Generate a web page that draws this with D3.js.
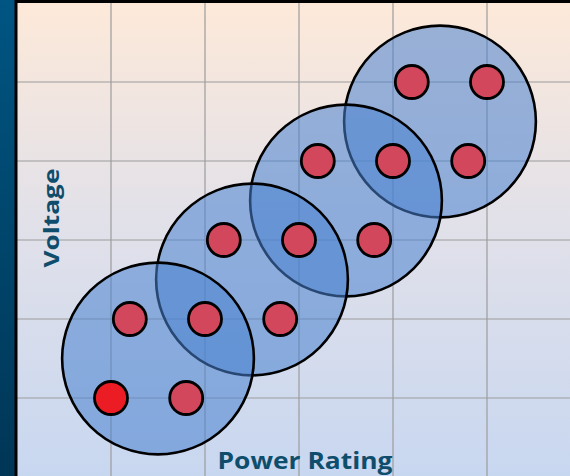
<!DOCTYPE html>
<html>
<head>
<meta charset="utf-8">
<script src="https://cdn.jsdelivr.net/npm/d3@7"></script>
<style>
  html, body { margin: 0; padding: 0; background: #fff; }
  svg { display: block; }
</style>
</head>
<body>
<script>
// groups (big circles), centres in grid units
var groupX = [1.5, 2.5, 3.5, 4.5],
    groupY = [1.5, 2.5, 3.5, 4.5],
    groupR = 1.02;

// small dots
var dotX = [1.0, 1.8, 1.2, 2.0, 2.8, 2.2, 3.0, 3.8, 3.2, 4.0, 4.8, 4.2, 5.0],
    dotY = [1,   1,   2,   2,   2,   3,   3,   3,   4,   4,   4,   5,   5],
    dotHot = [true, false, false, false, false, false, false, false, false, false, false, false, false];

var gridTicks = [1, 2, 3, 4, 5];
var xLabel = 'Power Rating',
    yLabel = 'Voltage';

function draw() {
    var width = 570,
        height = 476,
        padLeft = 17,
        padTop = 3;

    var svg = d3.select('body').append('svg')
        .attr('width', width)
        .attr('height', height);

    var defs = svg.append('defs');
    var bg = defs.append('linearGradient').attr('id', 'bg')
        .attr('x1', 0).attr('y1', 0).attr('x2', 0).attr('y2', 1);
    bg.append('stop').attr('offset', '0%').attr('stop-color', '#fde9d9');
    bg.append('stop').attr('offset', '45%').attr('stop-color', '#e2e1e9');
    bg.append('stop').attr('offset', '100%').attr('stop-color', '#c8d7f0');
    var strip = defs.append('linearGradient').attr('id', 'strip')
        .attr('x1', 0).attr('y1', 0).attr('x2', 0).attr('y2', 1);
    strip.append('stop').attr('offset', '0%').attr('stop-color', '#005582');
    strip.append('stop').attr('offset', '100%').attr('stop-color', '#003656');

    var x = d3.scaleLinear().domain([0, 6]).range([padLeft, padLeft + 6 * 94]);
    var y = d3.scaleLinear().domain([0, 6]).range([padTop + 6 * 79, padTop]);

    /* background + side strip */
    svg.append('rect').attr('x', 0).attr('y', 0).attr('width', 15).attr('height', height)
        .attr('fill', 'url(#strip)');
    svg.append('rect').attr('x', padLeft).attr('y', padTop)
        .attr('width', width - padLeft).attr('height', height - padTop)
        .attr('fill', 'url(#bg)');

    /* grid */
    svg.append('g').selectAll('line').data(gridTicks).enter().append('line')
        .attr('x1', d => x(d)).attr('x2', d => x(d))
        .attr('y1', padTop).attr('y2', height)
        .attr('stroke', '#9c9c9c').attr('stroke-width', 1.2);
    svg.append('g').selectAll('line').data(gridTicks).enter().append('line')
        .attr('y1', d => y(d)).attr('y2', d => y(d))
        .attr('x1', padLeft).attr('x2', width)
        .attr('stroke', '#9c9c9c').attr('stroke-width', 1.2);

    /* border */
    svg.append('line').attr('x1', 16).attr('x2', 16).attr('y1', 0).attr('y2', height)
        .attr('stroke', '#000').attr('stroke-width', 3);
    svg.append('line').attr('x1', 15).attr('x2', width).attr('y1', 1.5).attr('y2', 1.5)
        .attr('stroke', '#000').attr('stroke-width', 3);

    /* big circles, top-right first so the lower-left one sits on top */
    var rpx = x(groupR) - x(0);
    var order = d3.range(groupX.length).reverse();
    svg.append('g').selectAll('circle').data(order).enter().append('circle')
        .attr('cx', i => x(groupX[i]))
        .attr('cy', i => y(groupY[i]))
        .attr('r', rpx)
        .attr('fill', 'rgb(72,129,208)')
        .attr('fill-opacity', 0.55)
        .attr('stroke', '#000')
        .attr('stroke-width', 2.6);

    /* dots */
    svg.append('g').selectAll('circle').data(dotX).enter().append('circle')
        .attr('cx', d => x(d))
        .attr('cy', (d, i) => y(dotY[i]))
        .attr('r', 16.5)
        .attr('fill', (d, i) => dotHot[i] ? '#ec1c24' : '#d2475b')
        .attr('stroke', '#000')
        .attr('stroke-width', 2.8);

    /* labels, fitted to the original's length */
    var xl = svg.append('text')
        .attr('text-anchor', 'middle')
        .style('font', 'bold 24px "Open Sans", sans-serif')
        .attr('fill', '#0e4e6c')
        .text(xLabel);
    var sx = 175 / xl.node().getComputedTextLength();
    xl.attr('transform', 'translate(305,469) scale(' + sx + ',1)');

    var yl = svg.append('text')
        .attr('text-anchor', 'middle')
        .style('font', 'bold 21px "Open Sans", sans-serif')
        .attr('fill', '#0e4e6c')
        .text(yLabel);
    var sy = 99 / yl.node().getComputedTextLength();
    yl.attr('transform', 'translate(59,218) rotate(-90) scale(' + sy + ',1)');
}
draw();
</script>
</body>
</html>
